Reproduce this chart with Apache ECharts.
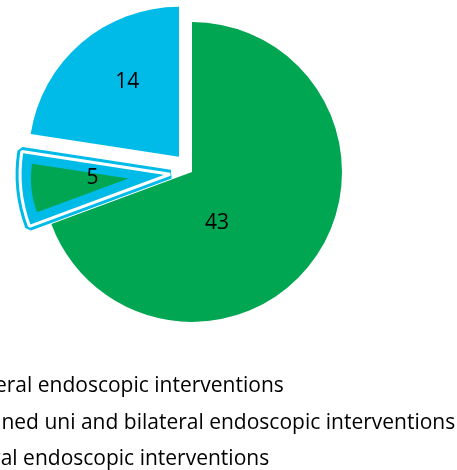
<!DOCTYPE html>
<html>
<head>
<meta charset="utf-8">
<script src="https://cdn.jsdelivr.net/npm/echarts@6/dist/echarts.min.js"></script>
<style>
html,body{margin:0;padding:0;background:#fff;}
#chart{width:457px;height:470px;}
</style>
</head>
<body>
<div id="chart"></div>
<script>
const categories = [
  'Unilateral endoscopic interventions',
  'Combined uni and bilateral endoscopic interventions',
  'Bilateral endoscopic interventions'
];
const values = [43, 5, 14];
const exploded = [false, true, true];

const GREEN = '#00a651';
const CYAN = '#00bbe7';

const chart = echarts.init(document.getElementById('chart'), null, {renderer: 'canvas'});

const center = [192, 172];
const R = 150;
const labelShift = [[-39, 6], [-2, -4], [-1, -16]];
const legendTops = [371, 408, 444];

const TRANSPARENT = {color: 'rgba(0,0,0,0)', borderWidth: 0};

function mainData() {
  return categories.map((name, i) => ({
    name: name,
    value: values[i],
    selected: exploded[i],
    itemStyle: i === 1 ? TRANSPARENT : {color: i === 0 ? GREEN : CYAN, borderWidth: 0}
  }));
}
function overlayData(style) {
  return categories.map((name, i) => ({
    name: name,
    value: values[i],
    selected: exploded[i],
    itemStyle: i === 1 ? style : TRANSPARENT
  }));
}

const common = {
  type: 'pie',
  center: center,
  startAngle: 90,
  clockwise: true,
  selectedMode: 'multiple',
  avoidLabelOverlap: false,
  animation: false,
  emphasis: {disabled: true},
  labelLine: {show: false}
};

const legends = categories.map((name, i) => ({
  orient: 'vertical',
  left: -89,
  top: legendTops[i],
  itemWidth: 16,
  itemHeight: 16,
  selectedMode: false,
  data: [{name: name, itemStyle: {color: i === 2 ? CYAN : GREEN}}],
  textStyle: {fontFamily: 'Open Sans', fontSize: 21, color: '#000'}
}));

chart.setOption({
  backgroundColor: '#ffffff',
  animation: false,
  legend: legends,
  series: [
    Object.assign({}, common, {
      name: 'fill5',
      radius: [0, R],
      selectedOffset: 22,
      silent: true,
      label: {show: false},
      data: overlayData({color: CYAN, borderColor: CYAN, borderWidth: 9, borderJoin: 'bevel'})
    }),
    Object.assign({}, common, {
      name: 'ring5',
      radius: [0, R],
      selectedOffset: 22,
      silent: true,
      label: {show: false},
      data: overlayData({color: 'rgba(0,0,0,0)', borderColor: '#ffffff', borderWidth: 3, borderJoin: 'bevel'})
    }),
    Object.assign({}, common, {
      name: 'inner5',
      radius: [0, R - 52.5],
      selectedOffset: 64,
      silent: true,
      label: {show: false},
      data: overlayData({color: GREEN, borderWidth: 0})
    }),
    Object.assign({}, common, {
      name: 'main',
      radius: [0, R],
      selectedOffset: 20,
      data: mainData(),
      label: {
        show: true,
        position: 'inside',
        formatter: '{c}',
        fontFamily: 'Open Sans',
        fontSize: 21,
        color: '#000'
      },
      labelLayout: function (p) {
        const s = labelShift[p.dataIndex];
        return {dx: s[0], dy: s[1]};
      }
    })
  ]
});
</script>
</body>
</html>
